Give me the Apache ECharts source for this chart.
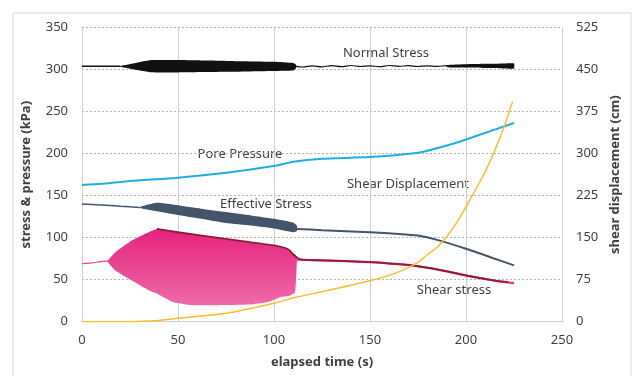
<!DOCTYPE html>
<html>
<head>
  <meta charset="utf-8">
</head>
<body style="height: 100%; margin: 0; background: #fff">
  <div id="container" style="width: 633px; height: 376px"></div>
  <script type="text/javascript" src="https://cdn.jsdelivr.net/npm/echarts@6/dist/echarts.min.js"></script>
  <script type="text/javascript">
    // axis ranges
    var leftMax = 350, rightMax = 525;

    // normal stress (kPa): thin line, then oscillation envelope, then thin wiggly line
    var nsLineT = [0, 10, 20];
    var nsLineV = [304, 304, 304];
    var nsBandT = [20, 28, 36, 50, 75, 100, 110, 111.5];
    var nsBandUp = [304.5, 308, 311.5, 311.5, 310.5, 309.5, 308, 306];
    var nsBandLo = [303.5, 300, 297, 296.8, 297.5, 298.5, 299, 302];
    var nsTailT = [111.5, 115, 120, 125, 130, 135, 140, 145, 150, 155, 160, 165, 170, 175, 180, 185, 190, 195, 200, 205, 210, 215, 220, 225];
    var nsTailV = [304, 303.2, 304.6, 303.4, 304.8, 303.6, 305, 303.8, 304.6, 303.6, 305, 304, 304.8, 303.8, 304.6, 304, 304.8, 303.8, 304.6, 304, 304.8, 304, 305, 304.5];
    var nsBand2T = [190, 200, 210, 220, 225];
    var nsBand2Up = [305.5, 306.5, 307, 307.5, 307.5];
    var nsBand2Lo = [303, 302.5, 302, 301.5, 301.5];

    // pore pressure (kPa)
    var ppT = [0, 10, 25, 50, 75, 100, 110, 125, 150, 175, 190, 200, 215, 225];
    var ppV = [162.8, 164.2, 167.5, 171.5, 177.4, 185.3, 190.5, 194, 196, 201, 209.7, 216.9, 228.7, 236.5];

    // effective stress (kPa)
    var esLineT = [0, 10, 20, 30];
    var esLineV = [140, 139, 137.5, 136];
    var esBandT = [30, 39, 50, 62, 75, 88, 100, 110, 112];
    var esBandUp = [136.5, 141.5, 138.5, 134.5, 130.5, 126.5, 122.5, 118, 114];
    var esBandLo = [135.5, 131.5, 127, 122.5, 117.5, 114.5, 111, 106.5, 108];
    var esTailT = [112, 125, 150, 165, 175, 185, 200, 215, 225];
    var esTailV = [110.5, 109, 106.4, 104.5, 102.5, 97.4, 86.8, 75, 67];

    // shear stress (kPa): pink record and dark red peak trend
    var ssLineT = [0, 5, 10, 13];
    var ssLineV = [69, 70, 71.5, 72];
    var ssBandT = [13, 17.4, 26, 34.7, 39, 47, 57, 75, 87, 97, 104, 108, 111, 112];
    var ssBandUp = [72, 82.8, 96.6, 106.5, 110.4, 107.5, 104, 98.5, 94.5, 91, 88, 85.5, 80, 76];
    var ssBandLo = [72, 61, 49, 37.5, 33.6, 23.7, 19.7, 20, 20.6, 23.6, 29.6, 31, 35.5, 76];
    var ssTailT = [112, 125, 150, 165, 175, 190, 200, 215, 225];
    var ssTailV = [74, 73, 71, 68.5, 66, 60, 55, 49, 46];
    var peakT = [39, 50, 75, 100, 106, 108, 110, 113, 116, 125, 150, 165, 175, 190, 200, 215, 222];
    var peakV = [110.4, 106.5, 98.5, 90.7, 87.5, 85, 80, 75, 73.5, 73, 71, 68.5, 66, 60, 55, 49, 47];

    // shear displacement (cm, right axis)
    var sdT = [0, 25, 40, 50, 75, 100, 112, 125, 150, 165, 175, 180, 185, 190, 195, 200, 205, 210, 215, 220, 224.3];
    var sdV = [0, 0, 2, 6, 15, 33, 44, 53.6, 73, 89, 106, 120, 133, 152, 176, 205, 236, 268, 306, 350, 393];

    function pairs(t, v) {
      return t.map(function (x, i) { return [x, v[i]]; });
    }

    function line(name, t, v, color, width, yAxisIndex, smooth) {
      return {
        name: name, type: 'line', data: pairs(t, v), yAxisIndex: yAxisIndex || 0,
        showSymbol: false, symbol: 'none', smooth: smooth === undefined ? 0.2 : smooth, silent: true,
        lineStyle: { color: color, width: width }
      };
    }

    // filled envelope of an oscillating record
    function band(name, t, up, lo, fill) {
      return {
        name: name, type: 'custom', silent: true,
        data: t.map(function (x, i) { return [x, up[i], lo[i]]; }),
        encode: { x: 0, y: [1, 2] },
        renderItem: function (params, api) {
          if (params.dataIndex !== 0) return null;
          var pts = [];
          for (var i = 0; i < t.length; i++) pts.push(api.coord([t[i], up[i]]));
          for (var j = t.length - 1; j >= 0; j--) pts.push(api.coord([t[j], lo[j]]));
          return { type: 'polygon', shape: { points: pts, smooth: 0.15 }, style: { fill: fill } };
        }
      };
    }

    var txt = '#404040';
    var font = 'Noto Sans';

    function note(text, cx, cy) {
      return {
        type: 'text', x: cx, y: cy,
        style: { text: text, fill: txt, font: '13px "Noto Sans"', textAlign: 'center', textVerticalAlign: 'middle' }
      };
    }

    var pinkFill = new echarts.graphic.LinearGradient(0, 0, 0, 1, [
      { offset: 0, color: '#e6227f' },
      { offset: 1, color: '#ee6aa9' }
    ]);

    var dom = document.getElementById('container');
    var myChart = echarts.init(dom, null, { renderer: 'canvas' });

    var option = {
      animation: false,
      backgroundColor: '#fff',
      grid: { left: 82, right: 71, top: 27.7, bottom: 54.3 },
      xAxis: {
        type: 'value', min: 0, max: 250, interval: 50,
        name: 'elapsed time (s)', nameLocation: 'middle', nameGap: 34,
        nameTextStyle: { color: txt, fontFamily: font, fontSize: 13, fontWeight: 'bold' },
        axisLine: { lineStyle: { color: '#cfcfcf' } },
        axisTick: { show: false },
        axisLabel: { color: txt, fontFamily: font, fontSize: 13, margin: 12 },
        splitLine: { show: true, lineStyle: { color: '#cfcfcf', width: 1 } }
      },
      yAxis: [{
        type: 'value', min: 0, max: leftMax, interval: 50,
        name: 'stress & pressure (kPa)', nameLocation: 'middle', nameGap: 49,
        nameTextStyle: { color: txt, fontFamily: font, fontSize: 13, fontWeight: 'bold' },
        axisLine: { show: false }, axisTick: { show: false },
        axisLabel: { color: txt, fontFamily: font, fontSize: 13, margin: 14 },
        splitLine: { lineStyle: { color: '#b5b5b5', type: [2, 2] } }
      }, {
        type: 'value', min: 0, max: rightMax, interval: 75,
        name: 'shear displacement (cm)', nameLocation: 'middle', nameGap: 44, nameRotate: 90,
        nameTextStyle: { color: txt, fontFamily: font, fontSize: 13, fontWeight: 'bold' },
        axisLine: { show: true, lineStyle: { color: '#cfcfcf' } }, axisTick: { show: false },
        axisLabel: { color: txt, fontFamily: font, fontSize: 13, margin: 14 },
        splitLine: { show: false }
      }],
      graphic: [
        { type: 'rect', shape: { x: 13, y: 13, width: 618, height: 380 }, style: { fill: 'none', stroke: '#d9d9d9', lineWidth: 1 }, silent: true },
        note('Normal Stress', 386, 53),
        note('Pore Pressure', 240, 154),
        note('Shear Displacement', 408, 184),
        note('Effective Stress', 266, 204),
        note('Shear stress', 454, 290)
      ],
      series: [
        band('Normal Stress', nsBandT, nsBandUp, nsBandLo, '#111111'),
        line('Normal Stress', nsLineT, nsLineV, '#111111', 1.5),
        line('Normal Stress', nsTailT, nsTailV, '#111111', 1.2, 0, 0.4),
        band('Normal Stress', nsBand2T, nsBand2Up, nsBand2Lo, '#111111'),
        line('Pore Pressure', ppT, ppV, '#1eaee2', 2),
        line('Effective Stress', esLineT, esLineV, '#44546a', 1.5),
        band('Effective Stress', esBandT, esBandUp, esBandLo, '#44546a'),
        line('Effective Stress', esTailT, esTailV, '#44546a', 2),
        line('Shear stress', ssLineT, ssLineV, '#e8408f', 1.2),
        band('Shear stress', ssBandT, ssBandUp, ssBandLo, pinkFill),
        line('Shear stress', ssTailT, ssTailV, '#e8338a', 2.2),
        line('Peak shear stress', peakT, peakV, '#8e1c35', 1.8),
        line('Shear Displacement', sdT, sdV, '#fdbd2c', 1.5, 1)
      ]
    };

    myChart.setOption(option);
    window.addEventListener('resize', myChart.resize);
  </script>
</body>
</html>
